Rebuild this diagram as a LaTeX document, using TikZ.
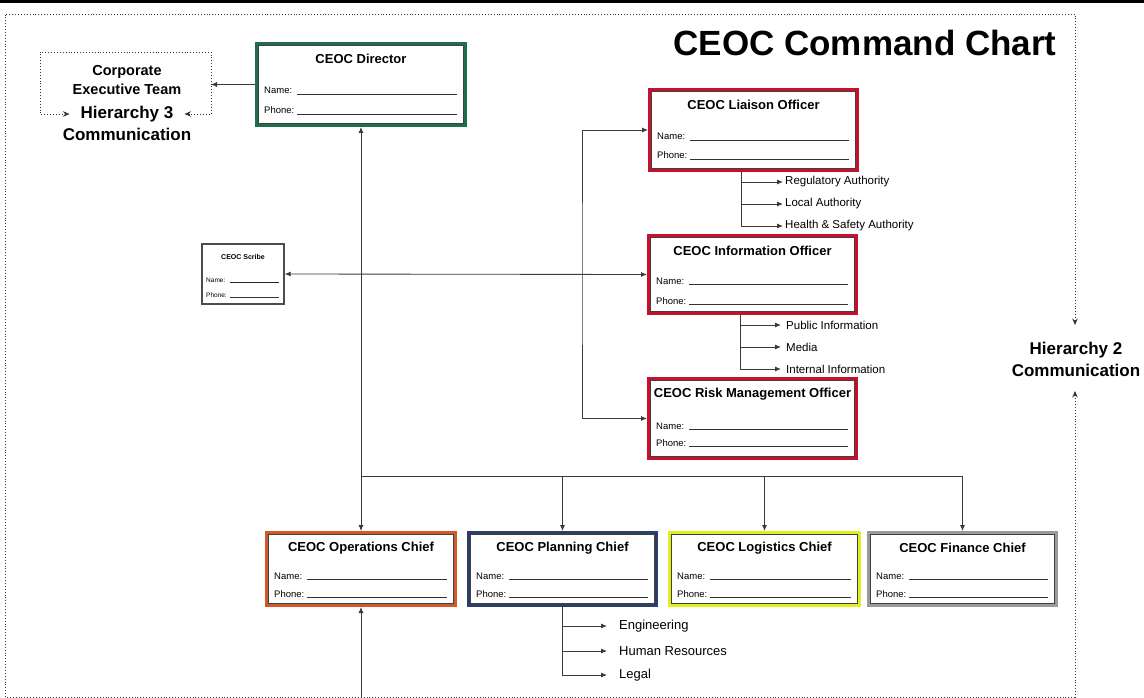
\documentclass[tikz,border=0pt]{standalone}
\usepackage{fontspec}
\setmainfont{Liberation Sans}
\usetikzlibrary{arrows.meta}

\definecolor{dirgreen}{HTML}{1E6E4C}
\definecolor{offred}{HTML}{C8102E}
\definecolor{opsorange}{HTML}{D2592A}
\definecolor{plnnavy}{HTML}{2B3F66}
\definecolor{logyellow}{HTML}{E2EE1E}
\definecolor{fingray}{HTML}{9A9A9A}
\definecolor{wire}{HTML}{3A3A3A}

\newcommand{\sizept}[1]{\fontsize{#1}{#1}\selectfont}

% role card: name, left, top, right, bottom, colour, title, name baseline, phone baseline
\newcommand{\rolecard}[9]{%
  \node[card, draw=#6, minimum width={#4-#2-3.5}, minimum height={#5-#3-3.5}] (#1) at ({(#2+#4)/2},{(#3+#5)/2}) {};
  \draw[cardinner] ([shift={(3.2,3.2)}]#1.north west) rectangle ([shift={(-3.2,-3.2)}]#1.south east);
  \node[cardtitle] (#1-t) at ({(#2+#4)/2},#3+17) {#7};
  \node[fieldlbl] (#1-n) at (#2+9,#8) {Name:};
  \node[fieldlbl] (#1-p) at (#2+9,#9) {Phone:};
  \draw[fieldline] (#2+42,#8) -- (#4-10,#8);
  \draw[fieldline] (#2+42,#9) -- (#4-10,#9);
}

\tikzset{
  tip/.tip={Latex[length=6pt,width=5pt]},
  dtip/.tip={Stealth[length=6.5pt,width=5.5pt]},
  card/.style={rectangle, line width=3.5pt, fill=white, inner sep=0pt},
  cardinner/.style={line width=1pt, black!75},
  cardtitle/.style={font=\bfseries\sizept{13}, inner sep=0pt},
  fieldlbl/.style={anchor=base west, inner sep=0pt, font=\sizept{9.5}},
  fieldline/.style={line width=0.7pt, black!80},
  conn/.style={draw=wire, line width=0.85pt, arrows={-tip}},
  conn2/.style={conn, arrows={tip-tip}},
  plain/.style={draw=wire, line width=0.85pt},
  hier/.style={draw=black!80, line width=0.9pt, dotted},
  tiplbl/.style={anchor=west, inner xsep=2pt, inner ysep=0pt},
}

\begin{document}
\begin{tikzpicture}[x=1pt, y=-1pt]
\useasboundingbox (0,0) rectangle (1144,698);
\fill[white] (0,0) rectangle (1144,698);
\fill[black] (0,0) rectangle (1144,3.5);

% heading
\node[anchor=base, inner sep=0pt, font=\bfseries\sizept{35}] (head) at (865,56) {CEOC Command Chart};

% command staff and section chiefs
\rolecard{dir}{255}{42}{467}{127}{dirgreen}{CEOC Director}{94}{114}
\rolecard{lia}{648}{88}{859}{172}{offred}{CEOC Liaison Officer}{140}{159}
\rolecard{inf}{647}{234}{858}{315}{offred}{CEOC Information Officer}{284}{304}
\rolecard{rsk}{647}{377}{858}{460}{offred}{CEOC Risk Management Officer}{429}{446}
\rolecard{ops}{265}{531}{457}{607}{opsorange}{CEOC Operations Chief}{579}{597}
\rolecard{pln}{467}{531}{658}{607}{plnnavy}{CEOC Planning Chief}{579}{597}
\rolecard{log}{668}{531}{861}{607}{logyellow}{CEOC Logistics Chief}{579}{597}
\rolecard{fin}{867}{531}{1058}{607}{fingray}{CEOC Finance Chief}{579}{597}

% scribe
\node[rectangle, draw=black!70, line width=1.4pt, fill=white, inner sep=0pt,
      minimum width=82, minimum height=60] (scr) at (243,274) {};
\node[font=\bfseries\sizept{7}, inner sep=0pt] (scr-t) at (243,257) {CEOC Scribe};
\node[fieldlbl, font=\sizept{6.5}] (scr-n) at (206,282) {Name:};
\node[fieldlbl, font=\sizept{6.5}] (scr-p) at (206,297) {Phone:};
\draw[line width=0.9pt, black!85] (230,282) -- (279,282);
\draw[fieldline] (230,297) -- (279,297);

% corporate executive team and hierarchy 3
\node[align=center, inner sep=0pt, font=\bfseries\sizept{14.5}] (cet) at (127,80)
  {Corporate\\[4pt]Executive Team};
\node[inner xsep=11pt, inner ysep=0pt, font=\bfseries\sizept{17}] (h3) at (127,114) {Hierarchy 3};
\node[inner sep=0pt, font=\bfseries\sizept{17}] (h3c) at (127,134) {Communication};
\coordinate (cetNW) at (40,52);
\coordinate (cetNE) at (211,52);
\draw[hier, arrows={dtip-dtip}] (h3.west) -| (cetNW) -- (cetNE) |- (h3.east);

% hierarchy 2 frame
\node[inner sep=0pt, font=\bfseries\sizept{17}] (h2) at (1076,350) {Hierarchy 2};
\node[inner sep=0pt, font=\bfseries\sizept{17}] (h2c) at (1076,370) {Communication};
\coordinate (frNW) at (5,14);
\coordinate (frNE) at (1075,14);
\coordinate (frSW) at (5,697);
\coordinate (frSE) at (1075,697);
\coordinate (h2top) at (1075,325);
\coordinate (h2bot) at (1075,391);
\draw[hier, arrows={dtip-dtip}] (h2top) -- (frNE) -- (frNW) -- (frSW) -- (frSE) -- (h2bot);

% director links
\draw[conn] (dir.west) -- (cetNE |- dir.west);
\draw[conn2] (dir.south) -- (ops.north);

% section chief bus
\coordinate (bus) at (361,476);
\draw[plain] (bus) -- (bus -| fin.north);
\draw[conn] (bus -| pln.north) -- (pln.north);
\draw[conn] (bus -| log.north) -- (log.north);
\draw[conn] (bus -| fin.north) -- (fin.north);

% operations feed from below
\coordinate (opsfeed) at (361,698);
\draw[conn] (opsfeed) -- (ops.south);

% officer bracket and scribe link
\coordinate (brk) at (582,273);
\draw[conn2] (lia.west) -| (brk) |- (rsk.west);
\draw[conn2] (scr.east) -- (inf.west);

% liaison contacts
\node[tiplbl, font=\sizept{11.5}] (reg) at (783,182) {Regulatory Authority};
\node[tiplbl, font=\sizept{11.5}] (loc) at (783,204) {Local Authority};
\node[tiplbl, font=\sizept{11.5}] (hsa) at (783,226) {Health \& Safety Authority};
\coordinate (liaT) at (741,172);
\draw[conn] (liaT) |- (reg.west);
\draw[conn] (liaT) |- (loc.west);
\draw[conn] (liaT) |- (hsa.west);

% information contacts
\node[tiplbl, inner xsep=5pt, font=\sizept{11.5}] (pub) at (781,325) {Public Information};
\node[tiplbl, inner xsep=5pt, font=\sizept{11.5}] (med) at (781,347) {Media};
\node[tiplbl, inner xsep=5pt, font=\sizept{11.5}] (int) at (781,369) {Internal Information};
\coordinate (infT) at (740,315);
\draw[conn] (infT) |- (pub.west);
\draw[conn] (infT) |- (med.west);
\draw[conn] (infT) |- (int.west);

% planning units
\node[tiplbl, inner xsep=12pt, font=\sizept{13}] (eng) at (607,626) {Engineering};
\node[tiplbl, inner xsep=12pt, font=\sizept{13}] (hum) at (607,651) {Human Resources};
\node[tiplbl, inner xsep=12pt, font=\sizept{13}] (leg) at (607,675) {Legal};
\coordinate (plnT) at (562,607);
\draw[conn] (plnT) |- (eng.west);
\draw[conn] (plnT) |- (hum.west);
\draw[conn] (plnT) |- (leg.west);
\end{tikzpicture}
\end{document}
